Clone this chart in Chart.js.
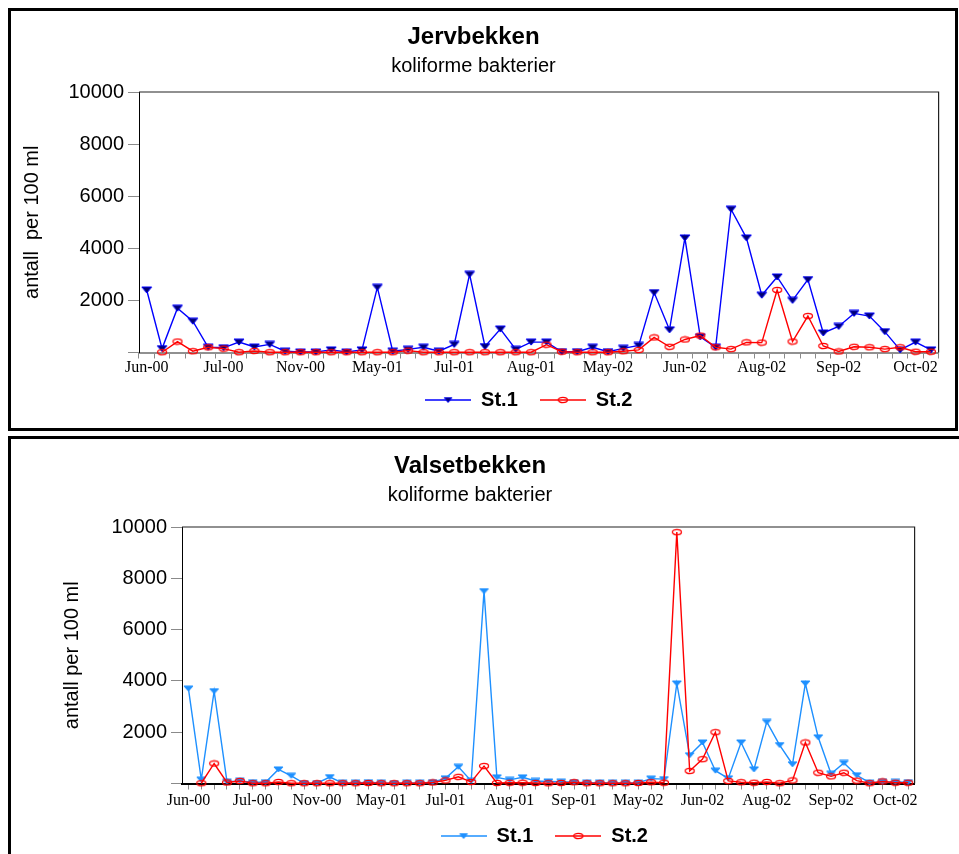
<!DOCTYPE html>
<html>
<head>
<meta charset="utf-8">
<script src="https://cdn.jsdelivr.net/npm/chart.js@4.4.0/dist/chart.umd.min.js"></script>
<style>
html, body { margin: 0; padding: 0; background: #fff; overflow: hidden; width: 959px; height: 854px; }
.panel { position: absolute; border: 3px solid #000; box-sizing: border-box; z-index: 2; pointer-events: none; }
#p1 { left: 8px; top: 8px; width: 950px; height: 423px; }
#p2 { left: 8px; top: 436px; width: 1000px; height: 500px; }
canvas { position: absolute; }
#c1 { left: 7px; top: 11px; }
#c2 { left: 11px; top: 439px; }
</style>
</head>
<body>
<canvas id="c1" width="938" height="416"></canvas>
<canvas id="c2" width="910" height="425"></canvas>
<div class="panel" id="p1"></div>
<div class="panel" id="p2"></div>
<script>
// Jervbekken - koliforme bakterier (antall per 100 ml)
const jervTicks = ['Jun-00', 'Jul-00', 'Nov-00', 'May-01', 'Jul-01', 'Aug-01', 'May-02', 'Jun-02', 'Aug-02', 'Sep-02', 'Oct-02'];
const jervSt1 = [2400, 150, 1700, 1200, 200, 180, 400, 210, 310, 50, 20, 20, 100, 20, 100, 2500, 50, 120, 200, 50, 310, 3000, 230, 900, 120, 400, 400, 30, 30, 200, 30, 160, 270, 2300, 870, 4400, 600, 200, 5500, 4400, 2200, 2900, 2000, 2800, 750, 1000, 1500, 1400, 800, 100, 400, 100];
const jervSt2 = [null, 10, 420, 50, 200, 150, 10, 60, 10, 10, 10, 10, 10, 10, 10, 10, 10, 70, 10, 10, 10, 10, 10, 10, 10, 10, 300, 30, 10, 10, 10, 50, 100, 580, 220, 500, 650, 200, 130, 390, 380, 2400, 420, 1400, 250, 40, 220, 200, 130, 200, 30, 30];

// Valsetbekken - koliforme bakterier
const valsTicks = ['Jun-00', 'Jul-00', 'Nov-00', 'May-01', 'Jul-01', 'Aug-01', 'Sep-01', 'May-02', 'Jun-02', 'Aug-02', 'Sep-02', 'Oct-02'];
const valsSt1 = [3700, 150, 3600, 70, 100, 50, 50, 550, 300, 10, 10, 250, 20, 20, 50, 20, 10, 20, 20, 50, 200, 650, 100, 7500, 240, 140, 240, 100, 80, 70, 50, 30, 30, 20, 20, 30, 190, 170, 3900, 1100, 1600, 500, 200, 1600, 550, 2400, 1500, 750, 3900, 1800, 380, 800, 320, 30, 60, 60, 50];
const valsSt2 = [null, 10, 780, 40, 100, 10, 10, 60, 10, 10, 10, 10, 10, 10, 20, 10, 10, 10, 10, 40, 120, 260, 60, 680, 20, 30, 30, 20, 10, 20, 50, 10, 10, 10, 10, 20, 50, 30, 9800, 490, 950, 2000, 100, 50, 30, 60, 10, 120, 1600, 420, 280, 420, 110, 10, 80, 30, 30];

// one month label every 5th sample
const jervLabels = jervSt1.map((v, i) => i % 5 === 0 ? jervTicks[i / 5] : '');
const valsLabels = valsSt1.map((v, i) => i % 5 === 0 ? valsTicks[i / 5] : '');

Chart.defaults.font.family = "'Liberation Sans', Arial, sans-serif";
Chart.defaults.color = '#000';

function tri(w, h, fill, stroke) {
  const c = document.createElement('canvas');
  c.width = w + 2; c.height = h + 2;
  const g = c.getContext('2d');
  g.beginPath(); g.moveTo(1, 1); g.lineTo(w + 1, 1); g.lineTo(w / 2 + 1, h + 1); g.closePath();
  g.fillStyle = fill; g.fill();
  g.strokeStyle = stroke; g.lineWidth = 1; g.stroke();
  return c;
}

function oval(rx, ry, color) {
  const c = document.createElement('canvas');
  c.width = rx * 2 + 3; c.height = ry * 2 + 3;
  const g = c.getContext('2d');
  g.beginPath(); g.ellipse(c.width / 2, c.height / 2, rx, ry, 0, 0, Math.PI * 2);
  g.strokeStyle = color; g.lineWidth = 1.3; g.stroke();
  return c;
}

function legendImg(marker, color) {
  const c = document.createElement('canvas');
  c.width = 46; c.height = 12;
  const g = c.getContext('2d');
  g.strokeStyle = color; g.lineWidth = 1.5;
  g.beginPath(); g.moveTo(0, 6); g.lineTo(46, 6); g.stroke();
  g.drawImage(marker, 23 - marker.width / 2, 6 - marker.height / 2);
  return c;
}

// top + right border of the plot box
const frame = {
  id: 'frame',
  afterDraw(chart) {
    const { ctx, chartArea: a } = chart;
    ctx.save();
    ctx.strokeStyle = '#222';
    ctx.lineWidth = 1.2;
    ctx.beginPath();
    ctx.moveTo(a.left, a.top); ctx.lineTo(a.right, a.top); ctx.lineTo(a.right, a.bottom);
    ctx.stroke();
    ctx.restore();
  }
};

// nudge the legend box a bit (it is centred under the plot by default)
const shiftLegend = {
  id: 'shiftLegend',
  afterLayout(chart, args, opts) {
    const l = chart.legend;
    l.left += opts.dx || 0; l.right += opts.dx || 0;
    l.top += opts.dy || 0; l.bottom += opts.dy || 0;
  }
};

function lineChart(id, o) {
  return new Chart(document.getElementById(id), {
    type: 'line',
    data: {
      labels: o.labels,
      datasets: [
        { label: 'St.1', data: o.st1, borderColor: o.c1, borderWidth: 1.4, pointStyle: o.m1, pointRadius: 5, tension: 0, clip: false, order: 1 },
        { label: 'St.2', data: o.st2, borderColor: '#ff0000', borderWidth: 1.4, pointStyle: o.m2, pointRadius: 5, tension: 0, clip: false, order: 0 }
      ]
    },
    options: {
      responsive: false,
      animation: false,
      events: [],
      layout: { padding: o.pad },
      plugins: {
        title: { display: true, text: o.title, color: '#000', font: { size: 24, weight: 'bold' }, padding: { top: o.titleTop, bottom: 0 } },
        subtitle: { display: true, text: 'koliforme bakterier', color: '#000', font: { size: 20 }, padding: { top: o.subTop, bottom: o.subBottom } },
        legend: {
          position: 'bottom',
          fullSize: false,
          maxHeight: 40,
          labels: {
            usePointStyle: true, pointStyleWidth: 46, padding: 22, color: '#000',
            font: { size: 20, weight: 'bold' },
            generateLabels: ch => ch.data.datasets.map((d, i) => ({
              text: d.label, pointStyle: o.legend[i], datasetIndex: i, hidden: false,
              lineWidth: 0, fillStyle: 'rgba(0,0,0,0)', strokeStyle: 'rgba(0,0,0,0)', fontColor: '#000'
            }))
          }
        },
        shiftLegend: { dx: o.legendDx, dy: o.legendDy },
        tooltip: { enabled: false }
      },
      scales: {
        x: {
          offset: true,
          grid: { offset: o.gridOffset, drawOnChartArea: false, color: '#8a8a8a', tickLength: 6 },
          border: { color: o.axisColor, width: 2 },
          ticks: { autoSkip: false, maxRotation: 0, padding: o.xPad, color: '#000', font: { family: "'Liberation Serif', 'Times New Roman', serif", size: 16 } },
          afterFit: s => { s.height = o.xH; }
        },
        y: {
          min: 0, max: 10000,
          grid: { drawOnChartArea: false, color: '#8a8a8a', tickLength: 11 },
          border: { color: '#000', width: 1 },
          ticks: { stepSize: 1000, padding: 4, color: '#000', font: { size: 20 }, callback: v => (v > 0 && v % 2000 === 0) ? v : '' },
          title: { display: true, text: o.ytitle, color: '#000', font: { size: 20 }, padding: { top: o.ytPad, bottom: 0 } },
          afterFit: s => { s.width = o.yW; }
        }
      }
    },
    plugins: [frame, shiftLegend]
  });
}

const triNavy = tri(10, 6, '#000070', '#0000ff');
const ovalRed = oval(4.5, 2.6, '#ff0000');
const triSky = tri(9, 5, '#1e90ff', '#1e90ff');

lineChart('c1', {
  labels: jervLabels, st1: jervSt1, st2: jervSt2,
  c1: '#0000ff', m1: triNavy, m2: ovalRed,
  legend: [legendImg(tri(8, 5, '#000070', '#0000ff'), '#0000ff'), legendImg(ovalRed, '#ff0000')],
  title: 'Jervbekken', ytitle: 'antall  per 100 ml',
  pad: { left: 0, right: 5, top: 0, bottom: 7 },
  titleTop: 12, subTop: 3, subBottom: 13.2, xH: 27.5, xPad: 0, yW: 132, ytPad: 13,
  gridOffset: true, axisColor: '#909090', legendDx: -10, legendDy: -12
});

lineChart('c2', {
  labels: valsLabels, st1: valsSt1, st2: valsSt2,
  c1: '#1e90ff', m1: triSky, m2: ovalRed,
  legend: [legendImg(tri(8, 5, '#1e90ff', '#1e90ff'), '#1e90ff'), legendImg(ovalRed, '#ff0000')],
  title: 'Valsetbekken', ytitle: 'antall per 100 ml',
  pad: { left: 13, right: 5, top: 0, bottom: 14.5 },
  titleTop: 13, subTop: 2.2, subBottom: 20, xH: 26, xPad: 2, yW: 158, ytPad: 36,
  gridOffset: false, axisColor: '#000', legendDx: -4, legendDy: -5.5
});
</script>
</body>
</html>
